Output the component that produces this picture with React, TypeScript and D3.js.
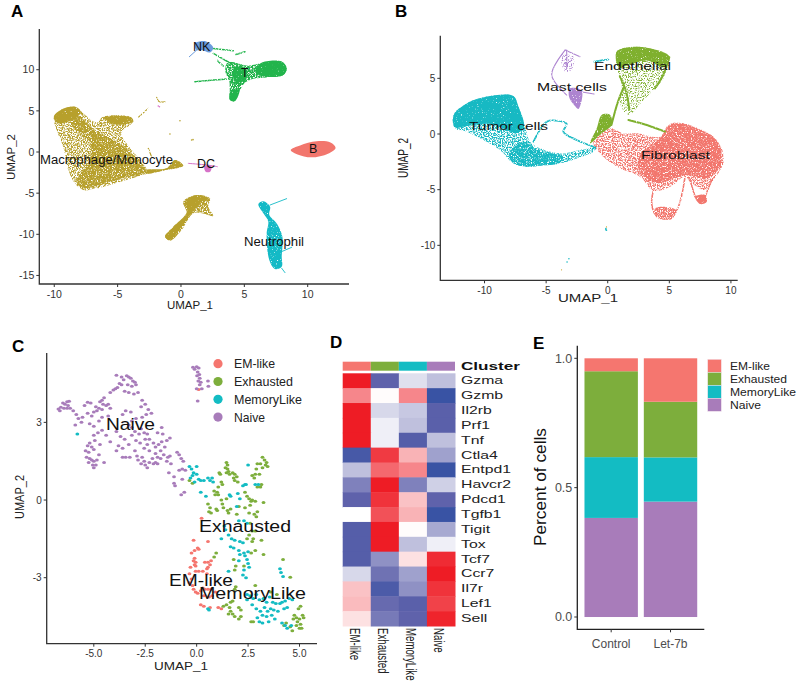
import * as d3 from 'd3';

type Pt = [number, number];

// ---------- panel A outlines (UMAP units) ----------
const macroBody: Pt[] = [[-10.03,4.29],[-9.42,5.18],[-8.37,5.51],[-7.84,4.9],[-6.66,3.6],[-6.13,4.29],[-3.89,4.21],[-3.76,3.68],[-4.7,2.3],[-4.1,0.65],[-3.3,-0.8],[-2.71,-2.19],[-1.13,-1.98],[-0.47,-0.97],[0.18,-1.66],[-1.13,-2.19],[-2.71,-2.67],[-4.29,-3.4],[-5.61,-4.01],[-6.92,-4.53],[-7.71,-4.62],[-8.37,-3.81],[-8.89,-2.19],[-9.29,0.65],[-9.82,2.67]];
const macroCore: Pt[] = [[-8.24,4.49],[-6.66,2.47],[-5.08,1.26],[-3.76,-0.36],[-2.71,-2.27],[-4.29,-3.08],[-6.39,-4.01],[-7.58,-4.41],[-8.24,-3.6],[-7.2,-1],[-7.2,1.2],[-8.6,3.2]];
const macroHead: Pt[] = [[-10.03,4.29],[-9.42,5.18],[-8.37,5.51],[-7.9,4.9],[-8.6,3.9],[-9.7,3.5]];
const macroTop: Pt[] = [[-6.1,4.2],[-3.9,4.2],[-3.8,3.7],[-4.8,3.3],[-5.6,3.6]];
const macroTail: Pt[] = [[-2.8,-2.2],[-1.13,-1.98],[-0.47,-0.97],[0.18,-1.66],[-1.13,-2.15],[-2.8,-2.6]];
const macroLower: Pt[] = [[-1.26,-10.28],[-0.61,-9.07],[0.45,-7.45],[0.18,-6.03],[1.24,-5.22],[2.29,-5.63],[2.16,-6.64],[2.55,-7.77],[1.63,-7.45],[0.97,-7.45],[0.05,-9.47],[-0.87,-10.77]];
const macroLowerCore: Pt[] = [[0.3,-6],[1.2,-5.25],[2.2,-5.65],[1.4,-6.4],[0.9,-7.3],[-0.1,-9.4],[-0.87,-10.7],[-1.26,-10.28],[-0.6,-9.1],[0.5,-7.2]];
const macroWisps: Pt[][] = [[[-3.37,4.21],[-2.58,5.3]],[[-1.92,6.64],[-1.71,6.11],[-1.26,6.11]],[[-2.58,0.45],[-2.32,-0.57]]];
const macroDots: Pt[] = [[-0.08,3.8],[0.84,1.46],[0.95,1.5],[-0.87,2.19]];
const tBody: Pt[] = [[3.7,10.9],[5.32,10.5],[6.5,10.85],[7.95,10.97],[8.34,10.16],[8.08,9.35],[6.76,9.07],[5.71,8.9],[5.05,8.4],[4.66,7.53],[4.26,6.19],[3.87,6.32],[3.85,7.53],[3.8,8.74],[3.5,9.76]];
const tBlob: Pt[] = [[6.3,10.8],[7.95,11],[8.34,10.16],[8.08,9.35],[6.76,9.15],[5.9,9.7]];
const tStem: Pt[] = [[4.6,7.5],[4.26,6.19],[3.87,6.32],[3.95,7.5]];
const tCentre: Pt[] = [[4.2,10.3],[5.2,10],[5.1,8.8],[4.3,8.4]];
const tArms: Pt[][] = [[[1.1,8.54],[2.55,8.74],[4.13,8.95]],[[2.55,11.98],[4.39,10.36]],[[2.82,11.17],[3.34,10.45]],[[4.34,11.86],[5.05,12.19]],[[2.55,12.59],[4.13,12.31]]];
const nkBlob: Pt[] = [[1.11,13.2],[1.89,13.48],[2.55,12.67],[2.29,12.1],[1.63,12.39],[1.24,12.39]];
const nkTail: Pt[][] = [[[0.66,11.58],[1.24,12.39]]];
const dcArms: Pt[][] = [[[0.58,-1.38],[2.03,-1.58],[2.87,-1.78]]];
const dcBlob: Pt[] = [[1.85,-1.7],[2.4,-1.7],[2.3,-2.4],[1.95,-2.4]];
const dcDots: Pt[] = [[-1.79,5.59],[-1.7,5.5]];
const bBlob: Pt[] = [[8.66,0.24],[9.4,0.8],[10.7,1.3],[11.8,1.15],[12.2,0.5],[11.6,-0.2],[10.3,-0.65],[9.2,-0.3]];
const neutroBody: Pt[] = [[6.11,-6.32],[6.5,-5.99],[7.03,-6.64],[6.97,-7.65],[7.55,-8.66],[8,-10.28],[7.95,-12.71],[7.95,-13.93],[7.42,-14.21],[6.97,-13.12],[6.76,-9.88],[6.89,-8.46],[6.5,-7.45]];
const neutroWisps: Pt[][] = [[[7.03,-6.44],[8.34,-5.67]],[[7.95,-12.1],[8.74,-11.58]],[[7.95,-14.13],[8.21,-14.66]]];

// ---------- panel B outlines ----------
const tumorBody: Pt[] = [[-12.53,1.71],[-11.44,2.75],[-9.55,3.41],[-7.66,3.41],[-7.25,2.46],[-6.71,0.66],[-6.3,-0.69],[-5.49,-1.29],[-4.68,-1.59],[-3.6,-1.74],[-1.98,-1.38],[-0.89,-1.14],[-1.16,-1.59],[-2.52,-2.19],[-3.87,-2.63],[-5.49,-2.84],[-6.57,-2.93],[-7.66,-2.63],[-8.74,-1.44],[-10.09,-0.54],[-11.44,0.21],[-12.39,0.51]];
const tumorCore: Pt[] = [[-12.5,1.7],[-11.44,2.75],[-9.55,3.41],[-7.66,3.41],[-7.25,2.46],[-6.8,0.6],[-7.4,0.1],[-9.5,0.9],[-11.5,0.7],[-12.4,0.6]];
const tumorBand: Pt[] = [[-8,-1.8],[-6.9,-0.7],[-5.5,-1.6],[-3.6,-2],[-3.9,-2.6],[-5.5,-2.84],[-6.57,-2.93],[-7.66,-2.63]];
const tumorLoop: Pt[][] = [[[-6.03,-0.69],[-4.95,1.11],[-4.14,1.2],[-3.33,0.9],[-3.6,0.21],[-2.52,-0.54],[-1,-1.2]],[[-1.11,6.5],[0.05,6.7]]];
const tumorDots: Pt[] = [[-0.15,-8.6],[-0.1,-8.65],[-0.15,-8.5],[-3.15,-11.2],[-3.3,-11.5]];
const mastLines: Pt[][] = [[[-3.46,7.54],[-4.55,5.3],[-3.33,3.5]],[[-3.46,7.54],[-2.25,6.95]],[[-3.33,7.54],[-3.33,5.9]],[[-3.06,3.95],[-1.11,3.59]]];
const mastBlob: Pt[] = [[-3.06,4.1],[-2.11,3.89],[-2.38,2.25],[-2.73,2.6],[-3.14,3.35]];
const mastPatch: Pt[] = [[-3.73,7.1],[-2.79,6.95],[-2.92,5.75],[-3.46,5.6]];
const endoBody: Pt[] = [[0.73,7.4],[2.08,7.84],[3.98,7.54],[5,6.95],[4.52,5],[3.84,4.1],[2.9,3.05],[1.68,1.71],[1,2.75],[1.14,4.25],[0.87,5.45]];
const endoTop: Pt[] = [[0.73,7.4],[2.08,7.84],[3.98,7.54],[5,6.95],[4.6,6],[3.2,6.6],[1.7,6.2],[0.9,6]];
const endoLines: Pt[][] = [[[5,6.9],[4.5,5.3],[3.84,4.1]],[[0.98,5.2],[1.5,3.8],[1.75,2.2]],[[0.3,0.8],[0.8,2.8],[1.3,4.2]],[[1.68,1.26],[3.17,0.81],[4.65,0.21]]];
const endoFoot: Pt[] = [[-0.89,0.51],[-0.49,1.71],[0.19,1.71],[0.32,0.81],[-0.49,0.06],[-1.43,-0.84]];
const fibroBody: Pt[] = [[-1.16,-0.69],[0.19,0.51],[1.27,0.06],[2.35,0.06],[4.25,-0.24],[4.92,0.81],[5.87,1.02],[7.36,0.51],[8.58,-0.24],[9.25,-1.29],[9.39,-2.63],[8.58,-4.13],[7.9,-5.03],[6.68,-4.28],[6.28,-3.83],[5.06,-4.73],[3.71,-5.09],[2.62,-3.83],[1,-3.08],[-0.62,-1.74]];
const fibroCore: Pt[] = [[2.62,-1.89],[4.25,-0.39],[4.92,0.72],[5.87,0.96],[7.36,0.45],[8.58,-0.3],[9.17,-1.35],[9.12,-2.93],[8.04,-3.98],[6.28,-3.68],[3.98,-4.4],[2.5,-3.2]];
const fibroLines: Pt[][] = [[[3.71,-5.09],[3.57,-6.23],[3.92,-7.28],[5.2,-7.43],[5.74,-6.53],[6.28,-3.83]],[[6.68,-4.13],[7.09,-5.63]],[[8.44,-4.13],[7.9,-5.63]]];
const fibroFoot: Pt[] = [[3.84,-6.68],[5.06,-6.59],[5.55,-6.83],[5.2,-7.63],[3.98,-7.49]];
const fibroToe: Pt[] = [[7.09,-5.63],[7.9,-5.48],[8.04,-6.08],[7.5,-6.29]];
const goldDots: Pt[] = [[-0.1,-8.35],[-3.75,-12.2]];

// ---------- panel C cells ----------
const naiveCells: Pt[] = [
  [-0.18,5.13],[-0.1,5.05],[0,5.15],[0.1,5.1],[0.05,4.95],[0.13,4.85],[0.02,4.8],[0.15,4.7],[0.08,4.6],[0.2,4.55],[0.15,4.45],[0.25,4.3],[0,4.3],[0.55,4.6],[0.57,4.4],[0.05,3.83],
  [-6.72,3.52],[-6.6,3.58],[-6.65,3.45],[-6.5,3.75],[-6.4,3.7],[-6.3,3.8],[-6.2,3.82],[-6.45,3.55],[-6.3,3.55],[-6.25,3.65],[-6.15,3.55],[-6,3.45],[-5.85,3.3],[-5.75,3.15],[-5.55,3.2],[-5.9,2.9],[-5.6,3],
  [-5.45,3.65],[-5.3,3.78],[-5.15,3.75],[-4.9,3.6],[-4.85,3.45],[-4.7,3.8],[-4.6,3.85],[-4.55,3.7],[-4.5,3.95],[-4.4,3.65],[-4.3,3.7],[-4.2,3.55],[-4.6,3.5],[-4.75,3.55],[-5,3.4],[-5.1,3.25],[-5.3,3.35],[-5.2,2.95],[-5,2.85],[-4.75,3.05],[-4.6,3.2],[-4.3,3.25],
  [-3.9,4.82],[-3.65,4.75],[-3.55,4.65],[-3.4,4.8],[-3.3,4.75],[-3.2,4.7],[-3.1,4.6],[-3,4.55],[-2.95,4.45],[-3.15,4.4],[-3.35,4.45],[-3.65,4.45],[-3.75,4.5],[-3.85,4.35],[-3.95,4.3],[-4.05,4.25],[-4.2,4.15],[-3.5,4.2],[-3.3,4.15],[-3.05,4.1],[-2.85,4.15],[-2.65,3.85],[-2.5,3.7],[-2.7,3.6],[-2.35,3.5],[-2.2,3.35],[-2.45,3.3],[-2.65,3.2],[-2.95,3.15],[-3.15,3.05],[-3.3,2.9],[-3.45,3.45],[-3.6,3.3],[-3.2,3.4],
  [-1.7,2.8],[-1.9,2.6],[-1.65,2.55],[-5,2.5],[-4.8,2.6],[-4.6,2.7],[-4.95,2.3],[-5.2,2.2],[-5.1,2.05],[-5.3,2.1],[-5,1.95],[-5.4,1.9],[-5.25,1.85],[-4.7,2.15],[-4.4,2.5],[-4.2,2.25],[-3.9,2.65],[-3.7,2.45],[-3.8,2.1],[-3.6,2],[-3.5,2.35],[-3.3,2.15],[-3.15,2.5],[-3,2.65],[-2.95,2.3],[-2.8,2.55],[-2.7,2.75],[-2.55,2.6],[-2.75,2.2],[-2.5,2.35],[-2.4,2.55],[-2.55,2],[-2.4,2.15],[-2.3,2.35],[-2.3,1.9],[-2.1,2.2],[-2,2.05],[-1.85,2.15],[-1.7,2.25],[-1.55,2.05],[-1.45,2.3],[-1.3,2.4],[-1.75,1.9],[-3.15,2.8],[-3.9,1.9],
  [-5.35,1.65],[-5.2,1.6],[-5.1,1.55],[-5.25,1.45],[-5,1.5],[-4.85,1.55],[-5.05,1.35],[-5,1.25],[-4.9,1.35],[-4.5,1.45],[-4.75,1.75],[-3.6,1.65],[-3.45,1.65],[-3.25,1.65],[-3,1.9],[-2.9,1.7],[-2.85,1.55],[-2.65,1.65],[-2.55,1.5],[-2.7,1.4],[-2.5,1.35],[-2.4,1.25],[-2.3,1.45],[-2.15,1.6],[-2,1.8],[-1.9,1.65],[-1.75,1.6],[-1.6,1.75],[-1.4,1.65],[-1.3,1.7],[-1.45,1.5],[-2.1,1.4],[-2,1.45],[-1.9,1.4],[-1.25,1.4],[-0.95,1.85],[-0.85,1.75],[-0.75,1.6],[-0.65,1.5],[-0.7,1.2],[-0.85,1.15],[-0.55,1.15],[-1.35,1.05],[-1.1,0.9],[-1.1,0.65],[-1.05,0.55],[-0.75,0.2],[-0.6,0.3],[-0.7,0.8],
];
const memoryCells: Pt[] = [
  [-5.8,2.55],[-0.35,1.3],[-0.25,1.2],[-0.15,1.05],[0,1.3],[-0.2,0.95],[0,1],[-0.3,0.85],[-0.1,0.7],[0.1,0.8],[0.2,0.75],[0.35,0.75],[0.55,0.85],[0.65,0.75],[0.75,0.85],[0.8,0.7],[0.2,0.3],[0.45,0.15],[2.5,1.35],[2.25,0.55],[2.35,0.6],[2.4,0.6],[2.85,0.6],[3,0.6],[1.6,0.2],[1.65,0.15],[2,0.25],[2.1,0.05],[1.95,-0.25],
  [1.35,-1],[1.4,-1.15],[2.05,-0.8],[2.3,-0.8],[2.45,-0.9],[1.2,-1.5],[1.55,-1.35],[1.7,-1.5],[1.85,-1.55],[2.1,-1.6],[2.25,-1.65],[1.65,-1.8],[1.8,-1.85],[2.05,-1.95],[2.1,-2.1],[2.3,-2.05],[2.35,-2.15],[2.5,-2],[2.05,-2.35],[2.45,-2.3],[2.5,-2.45],[2.3,-2.7],[2.25,-2.9],[2.4,-3],[1.55,-2.75],[2.55,-2.6],
  [4.05,-2.65],[4.1,-2.8],[4.2,-2.95],[2.45,-3.65],[2.6,-3.7],[2.45,-3.85],[2.75,-3.8],[2.9,-3.65],[3.05,-3.85],[3.25,-3.8],[3.4,-3.95],[3.55,-3.75],[3.7,-3.95],[3.85,-4],[4.05,-4],[4.15,-3.95],[4.3,-3.9],[4.5,-3.8],[4.65,-3.85],[2.7,-4.05],[2.9,-4.2],[3.1,-4.3],[3.3,-4.15],[3.45,-4.3],[3.6,-4.2],[3.75,-4.25],[3.95,-4.3],[4.25,-4.2],[4.4,-4.15],[2.95,-4.55],[3.2,-4.45],[3.4,-4.5],[3.65,-4.45],[3.8,-4.6],[3.05,-4.7],[3.2,-4.75],[3.5,-4.7],[4.15,-4.75],[4.3,-4.85],[4.4,-4.95],[4.6,-4.85],[0.55,-4.2],[0.6,-4.25],
];
const exhaustedCells: Pt[] = [
  [3.2,1.65],[3.3,1.55],[3.4,1.45],[3.35,1.35],[3.45,1.3],[3.1,1.4],[3.2,1.25],[2.95,1.4],[2.9,1.2],[2.85,1],[3.05,1],[2.7,0.95],[2.8,0.85],[3.15,0.6],[2.95,0.5],[3.1,0.5],
  [1.45,1.45],[1.5,1.35],[1.4,1.25],[1.5,1.2],[1.55,1.1],[1.45,1.05],[1.6,1],[1.1,1.05],[1.15,1],[1.75,1.05],[1.85,1],[1.8,0.85],[1.95,0.9],[1.85,0.75],[2,0.7],[1.2,0.7],[1.25,0.6],[1.05,0.5],[0.85,0.35],[0.9,0.2],[1,0.3],[1.05,0.2],[-0.35,0.75],[-0.2,0.65],
  [2.35,0.3],[2.45,0.15],[2.55,0.05],[2.65,-0.05],[2.7,0],[2.85,-0.05],[2.6,-0.2],[3.25,-0.1],[1.2,0],[1.25,-0.15],[1.45,0.05],[1.3,-0.3],[0.55,-0.15],[0.65,-0.3],[0.6,-0.45],[0.7,-0.5],[0.95,-0.35],[1,-0.4],[1.5,-0.4],[1.65,-0.35],[1.55,-0.5],[2.05,-0.25],[2.35,-0.3],[2.55,-0.5],[2.8,-0.55],[2.95,-0.45],[2.9,-0.65],[1.95,-0.55],[2.6,-0.9],[2.7,-1.2],[2.55,-1.35],[2.85,-1.2],
  [2.45,-1.5],[2.75,-1.5],[2.7,-1.6],[3.15,-1.55],[2.85,-1.95],[3.25,-2.1],[2.65,-2.05],[1.9,-2.55],[1.85,-2.7],[1.8,-2.3],[2.3,-2.55],[0.95,-2.05],[0.85,-2.2],[4.2,-2.3],[4.55,-2.98],
  [1.9,-3.35],[1.85,-3.45],[2.85,-3.3],[3.6,-3.55],[3.9,-3.65],[1.3,-4.1],[1.45,-4.05],[1.65,-3.95],[1.75,-3.9],[1.6,-4.15],[1.65,-4.3],[1.75,-4.4],[1.85,-4.5],[1.55,-4.4],[2.05,-4.15],[2.15,-4.25],[2.05,-4.6],[2.15,-4.5],[2.65,-4.7],[2.75,-4.7],
  [4.75,-4.45],[4.95,-4.2],[5.05,-4.1],[5.15,-4.45],[5.2,-4.55],[4.85,-4.55],[5,-4.6],[4.9,-4.7],[5.05,-4.8],[4.7,-4.6],[4.85,-4.85],[5,-4.95],[5.1,-4.95],[4.55,-4.9],[4.65,-5.05],[4.25,-4.85],[4.35,-4.75],
];
const emCells: Pt[] = [
  [0.1,4.27],[0.24,-0.7],[-0.15,-1.55],[0.55,-1.6],[-0.1,-1.95],[0.05,-1.85],[0.1,-1.9],[-0.25,-2.05],[-0.1,-2.25],[-0.15,-2.35],[-0.05,-2.4],[-0.1,-2.5],[-0.05,-2.55],[0.4,-2.4],[0.55,-2.4],[0.7,-2.35],[0.65,-2.5],[0.55,-2.6],[-0.3,-2.6],[-0.05,-2.75],[0.1,-2.75],[0.3,-2.75],[0.5,-2.85],[0.5,-2.65],[-0.35,-2.85],[-0.25,-3.05],[-0.35,-3.2],[-0.2,-3.3],[-0.15,-3.45],[-0.05,-3.55],[0.05,-3.6],[0.2,-3.5],[0.3,-3.4],[0.4,-3.45],[0.55,-3.45],[0.7,-3.45],[0.9,-3.55],[0.35,-3.7],[0.6,-3.75],[0.75,-3.7],[0.2,-4.05],[0.35,-4.1],[0.65,-4.15],[1.05,-4.15],[1.2,-4.2],
];

// ---------- panel D / E ----------
const clusters = ['EM-like', 'Exhausted', 'MemoryLike', 'Naive'];
const genes = ['Gzma','Gzmb','Il2rb','Prf1','Tnf','Ctla4','Entpd1','Havcr2','Pdcd1','Tgfb1','Tigit','Tox','Tcf7','Ccr7','Il7r','Lef1','Sell'];
const heat = [
  [1.5,-1,-0.2,-0.4],[0.8,0.02,0.8,-1.4],[1.5,-0.25,-0.35,-1.05],[1.5,-0.1,-0.4,-1.05],[1.5,-0.1,-1.1,-0.4],
  [-1.25,1.3,0.5,-0.6],[-0.4,1,0.8,-1.4],[-0.8,1.5,-0.8,-0.3],[-1,1.35,0.4,-1],[0,1.15,0.5,-1.4],
  [-1.1,1.5,0.02,-0.55],[-1.1,1.5,-0.4,-0.1],[-1.1,-0.7,0.2,1.4],[-0.25,-0.9,-0.6,1.5],[0.4,-1.2,-0.7,1.35],[0.45,-0.95,-1.05,1.25],[0.2,-0.85,-1,1.45],
];
const samples = ['Control', 'Let-7b'];
const controlShare = [0.05, 0.332, 0.235, 0.383];
const let7bShare = [0.168, 0.215, 0.171, 0.446];

const clusterColor = ['#f5766f', '#7dae3c', '#13bcc3', '#a87cba'];
const font = '"Liberation Sans", Arial, sans-serif';

const closed = d3.line().curve(d3.curveCatmullRomClosed.alpha(0.5));
const open = d3.line().curve(d3.curveCatmullRom.alpha(0.5));

function Blob({ pts, x, y, fill }: any) {
  return <path d={closed(pts.map((p: Pt) => [x(p[0]), y(p[1])]) as any) || ''} fill={fill} />;
}
function Wisps({ lines, x, y, stroke, width }: any) {
  return (
    <g fill="none" stroke={stroke} strokeWidth={width} strokeLinecap="round">
      {lines.map((l: Pt[], i: number) => (
        <path key={i} d={open(l.map(p => [x(p[0]), y(p[1])]) as any) || ''} />
      ))}
    </g>
  );
}
function Dots({ pts, x, y, fill, r = 0.8 }: any) {
  return <g fill={fill}>{pts.map((p: Pt, i: number) => <circle key={i} cx={x(p[0])} cy={y(p[1])} r={r} />)}</g>;
}

function Axes({ x, y, xTicks, yTicks, xFmt = String, size = 10.5, color = '#333' }: any) {
  const [x0, x1] = x.range();
  const [y0, y1] = y.range();
  return (
    <g fontFamily={font} fontSize={size} fill={color}>
      <path d={`M${x0},${y1}V${y0}H${x1}`} fill="none" stroke="#333" strokeWidth={1.3} />
      {xTicks.map((t: number) => (
        <g key={t} transform={`translate(${x(t)},${y0})`}>
          <line y2={3} stroke="#333" />
          <text y={13.5} textAnchor="middle">{xFmt(t)}</text>
        </g>
      ))}
      {yTicks.map((t: number) => (
        <g key={t} transform={`translate(${x0},${y(t)})`}>
          <line x2={-3} stroke="#333" />
          <text x={-5} dy="0.35em" textAnchor="end">{t}</text>
        </g>
      ))}
    </g>
  );
}

function Label({ x, y, w, size, children, anchor = 'start', weight, rot, fill = '#111' }: any) {
  return (
    <text
      transform={`translate(${x},${y})${rot ? ` rotate(${rot})` : ''}`}
      fontFamily={font}
      fontSize={size}
      fontWeight={weight}
      fill={fill}
      textAnchor={anchor}
      textLength={w}
      lengthAdjust={w ? 'spacingAndGlyphs' : undefined}
    >
      {children}
    </text>
  );
}

function PanelA() {
  const x = d3.scaleLinear().domain([-11.18, 13.26]).range([39.3, 349]);
  const y = d3.scaleLinear().domain([-16.04, 14.95]).range([284, 29]);
  const gold = '#b7a02c', green = '#22b44c', cyan = '#14bac6', blue = '#6b9bdc', pink = '#d672c8', salmon = '#f2766d';
  const p = { x, y };
  return (
    <g>
      <Axes x={x} y={y} xTicks={[-10, -5, 0, 5, 10]} yTicks={[-15, -10, -5, 0, 5, 10]} />
      <g filter="url(#mid)">
        <Blob {...p} pts={macroBody} fill={gold} />
      </g>
      <g filter="url(#sparse)">
        <Blob {...p} pts={macroCore} fill={gold} />
        <Blob {...p} pts={macroLower} fill={gold} />
        <Blob {...p} pts={tBody} fill={green} />
        <Wisps {...p} lines={macroWisps} stroke={gold} width={1.2} />
        <Wisps {...p} lines={tArms} stroke={green} width={1.5} />
      </g>
      <g filter="url(#dense)">
        <Blob {...p} pts={macroHead} fill={gold} />
        <Blob {...p} pts={macroTop} fill={gold} />
        <Blob {...p} pts={macroTail} fill={gold} />
        <Blob {...p} pts={macroLowerCore} fill={gold} />
        <Blob {...p} pts={tBlob} fill={green} />
        <Blob {...p} pts={tStem} fill={green} />
        <Blob {...p} pts={tCentre} fill={green} />
        <Blob {...p} pts={neutroBody} fill={cyan} />
      </g>
      <Blob {...p} pts={bBlob} fill={salmon} />
      <Blob {...p} pts={nkBlob} fill={blue} />
      <Blob {...p} pts={dcBlob} fill={pink} />
      <Wisps {...p} lines={neutroWisps} stroke={cyan} width={0.9} />
      <Wisps {...p} lines={nkTail} stroke={blue} width={1} />
      <Wisps {...p} lines={dcArms} stroke={pink} width={1} />
      <Dots {...p} pts={macroDots} fill={gold} />
      <Dots {...p} pts={dcDots} fill={pink} />
      <Label x={193} y={51} size={12.5}>NK</Label>
      <Label x={241} y={77} size={12.5}>T</Label>
      <Label x={40} y={164} size={12.5} w={133}>Macrophage/Monocyte</Label>
      <Label x={197} y={168} size={12.5}>DC</Label>
      <Label x={309} y={153} size={12.5}>B</Label>
      <Label x={244} y={246} size={12.5} w={60}>Neutrophil</Label>
      <Label x={190} y={309} size={11.5} anchor="middle" fill="#222">UMAP_1</Label>
      <Label x={15} y={157} size={11.5} anchor="middle" rot={-90} fill="#222">UMAP_2</Label>
    </g>
  );
}

function PanelB() {
  const x = d3.scaleLinear().domain([-13.59, 10.55]).range([440.3, 737.7]);
  const y = d3.scaleLinear().domain([-13.14, 8.83]).range([280.3, 35.7]);
  const teal = '#17b9c3', purple = '#ad84d0', olive = '#7fb02e', salmon = '#f2766d';
  const p = { x, y };
  return (
    <g>
      <Axes x={x} y={y} xTicks={[-10, -5, 0, 5, 10]} yTicks={[-10, -5, 0, 5]} size={10} />
      <g filter="url(#thin)">
        <Blob {...p} pts={endoBody} fill={olive} />
        <Blob {...p} pts={mastPatch} fill={purple} />
      </g>
      <g filter="url(#mid)">
        <Blob {...p} pts={tumorBody} fill={teal} />
        <Blob {...p} pts={fibroBody} fill={salmon} />
      </g>
      <g filter="url(#sparse)">
        <Blob {...p} pts={tumorBand} fill={teal} />
        <Blob {...p} pts={fibroCore} fill={salmon} />
        <Blob {...p} pts={fibroFoot} fill={salmon} />
        <Wisps {...p} lines={tumorLoop} stroke={teal} width={1.8} />
        <Wisps {...p} lines={fibroLines} stroke={salmon} width={1.6} />
      </g>
      <g filter="url(#dense)">
        <Blob {...p} pts={tumorCore} fill={teal} />
        <Blob {...p} pts={fibroToe} fill={salmon} />
        <Blob {...p} pts={endoTop} fill={olive} />
        <Blob {...p} pts={endoFoot} fill={olive} />
        <Blob {...p} pts={mastBlob} fill={purple} />
        <Wisps {...p} lines={endoLines} stroke={olive} width={2} />
        <Wisps {...p} lines={mastLines} stroke={purple} width={1.1} />
      </g>
      <Dots {...p} pts={tumorDots} fill={teal} />
      <Dots {...p} pts={goldDots} fill="#c9a52c" r={0.6} />
      <Label x={594} y={70} size={11.5} w={77}>Endothelial</Label>
      <Label x={537} y={91} size={11.5} w={70}>Mast cells</Label>
      <Label x={469} y={130} size={11.5} w={79}>Tumor cells</Label>
      <Label x={641} y={159} size={11.5} w={69}>Fibroblast</Label>
      <Label x={588} y={302} size={11} w={60} anchor="middle" fill="#222">UMAP_1</Label>
      <Label x={408} y={158} size={14} w={40} anchor="middle" rot={-90} fill="#222">UMAP_2</Label>
    </g>
  );
}

function PanelC() {
  const x = d3.scaleLinear().domain([-7.29, 5.85]).range([46.7, 317]);
  const y = d3.scaleLinear().domain([-5.55, 5.68]).range([643.7, 353]);
  const groups = [emCells, exhaustedCells, memoryCells, naiveCells];
  return (
    <g>
      <Axes x={x} y={y} xTicks={[-5, -2.5, 0, 2.5, 5]} yTicks={[-3, 0, 3]} xFmt={(t: number) => t.toFixed(1)} size={10} />
      {groups.map((g, i) => (
        <g key={i} fill={clusterColor[i]}>
          {g.map((c, j) => <ellipse key={j} cx={x(c[0])} cy={y(c[1])} rx={1.9} ry={1.5} />)}
        </g>
      ))}
      {clusters.map((c, i) => (
        <g key={c} transform={`translate(218,${363.7 + i * 17.8})`}>
          <circle r={4.6} fill={clusterColor[i]} />
          <Label x={16} y={4.5} size={13} w={[41, 59, 68, 31][i]} fill="#222">{c}</Label>
        </g>
      ))}
      <Label x={106} y={430} size={16} w={49}>Naive</Label>
      <Label x={199} y={532} size={16} w={92}>Exhausted</Label>
      <Label x={169} y={586} size={16} w={64}>EM-like</Label>
      <Label x={199} y={599} size={16} w={107}>MemoryLike</Label>
      <Label x={181} y={670} size={11.5} w={54} anchor="middle" fill="#222">UMAP_1</Label>
      <Label x={24} y={497} size={13} w={44} anchor="middle" rot={-90} fill="#222">UMAP_2</Label>
    </g>
  );
}

function PanelD() {
  const x = d3.scaleBand().domain(clusters).range([342.7, 455]);
  const y = d3.scaleBand().domain(genes).range([373.3, 626]);
  const color = d3.scaleLinear<string>().domain([-1.4, -1, 0, 1.5]).range(['#3953a4', '#5f62ab', '#ffffff', '#ee1c25']);
  return (
    <g>
      {clusters.map((c, i) => (
        <rect key={c} x={x(c)} y={361.7} width={x.bandwidth()} height={9} fill={clusterColor[i]} />
      ))}
      {genes.map((g, r) => clusters.map((c, i) => (
        <rect key={g + c} x={x(c)} y={y(g)} width={x.bandwidth() + 0.5} height={y.bandwidth() + 0.5} fill={color(heat[r][i])} />
      )))}
      <Label x={461} y={370} size={10} w={59} weight="bold">Cluster</Label>
      {genes.map(g => (
        <text key={g} transform={`translate(461,${(y(g) as number) + y.bandwidth() / 2 + 3.5}) scale(1.58,1)`} fontFamily={font} fontSize={10} fill="#222">{g}</text>
      ))}
      {clusters.map(c => (
        <text key={c} transform={`translate(${(x(c) as number) + x.bandwidth() / 2 - 6.8},628) rotate(90) scale(0.69,1)`} fontFamily={font} fontSize={14} fill="#222">{c}</text>
      ))}
    </g>
  );
}

function PanelE() {
  const x = d3.scaleBand().domain(samples).range([582.7, 699]).paddingInner(0.1).paddingOuter(0.03);
  const y = d3.scaleLinear().domain([-0.0475, 1.0]).range([629.3, 358.3]);
  const x0 = 577.3;
  const shares = [controlShare, let7bShare];
  return (
    <g>
      <path d={`M${x0},345.7V629.3H704.3`} fill="none" stroke="#222" strokeWidth={1.3} />
      {[0, 0.5, 1].map(t => (
        <g key={t} transform={`translate(${x0},${y(t)})`}>
          <line x2={-3} stroke="#333" />
          <text x={-5} dy="0.35em" textAnchor="end" fontFamily={font} fontSize={12.5} fill="#4d4d4d">{t.toFixed(1)}</text>
        </g>
      ))}
      {samples.map((s, k) => {
        const stack = d3.cumsum(shares[k].slice().reverse());
        return (
          <g key={s}>
            {shares[k].slice().reverse().map((v, i) => (
              <rect key={i} x={x(s)} y={y(stack[i])} width={x.bandwidth()} height={y(stack[i] - v) - y(stack[i])} fill={clusterColor[3 - i]} />
            ))}
            <line x1={(x(s) as number) + x.bandwidth() / 2} x2={(x(s) as number) + x.bandwidth() / 2} y1={629.3} y2={632.3} stroke="#333" />
            <text x={(x(s) as number) + x.bandwidth() / 2} y={648} textAnchor="middle" fontFamily={font} fontSize={12} fill="#4d4d4d">{s}</text>
          </g>
        );
      })}
      {clusters.map((c, i) => (
        <g key={c}>
          <rect x={707.7} y={359.3 + i * 13} width={13.6} height={13} fill={clusterColor[i]} stroke="#f3e6ee" strokeWidth={0.5} />
          <Label x={730} y={369.7 + i * 13} size={11} w={[40, 57, 66, 31][i]} fill="#222">{c}</Label>
        </g>
      ))}
      <Label x={546} y={487} size={16} w={118} anchor="middle" rot={-90}>Percent of cells</Label>
    </g>
  );
}

const panelLetters: [string, number, number][] = [['A', 11, 17], ['B', 395, 17], ['C', 12, 352], ['D', 330, 348], ['E', 533, 349]];

function Speckle({ id, seed, gain, offset }: any) {
  // grain that breaks the filled outlines up so they read as point clouds
  return (
    <filter id={id} filterUnits="userSpaceOnUse" x={0} y={0} width={800} height={682} colorInterpolationFilters="sRGB">
      <feTurbulence type="fractalNoise" baseFrequency="0.8" numOctaves={2} seed={seed} result="n" />
      <feColorMatrix in="n" type="matrix" values={`0 0 0 0 0  0 0 0 0 0  0 0 0 0 0  ${gain} 0 0 0 ${offset}`} result="m" />
      <feComposite in="SourceGraphic" in2="m" operator="in" />
    </filter>
  );
}

export default function App() {
  return (
    <svg width={800} height={682} style={{ position: 'absolute', left: 0, top: 0, background: '#fff' }}>
      <defs>
        <Speckle id="thin" seed={2} gain={5} offset={-2.4} />
        <Speckle id="mid" seed={6} gain={5} offset={-2} />
        <Speckle id="sparse" seed={4} gain={5} offset={-1.6} />
        <Speckle id="dense" seed={9} gain={6} offset={-1.2} />
      </defs>
      <PanelA />
      <PanelB />
      <PanelC />
      <PanelD />
      <PanelE />
      {panelLetters.map(([t, x, y]) => (
        <text key={t} x={x} y={y} fontFamily={font} fontWeight="bold" fontSize={17} fill="#000">{t}</text>
      ))}
    </svg>
  );
}
